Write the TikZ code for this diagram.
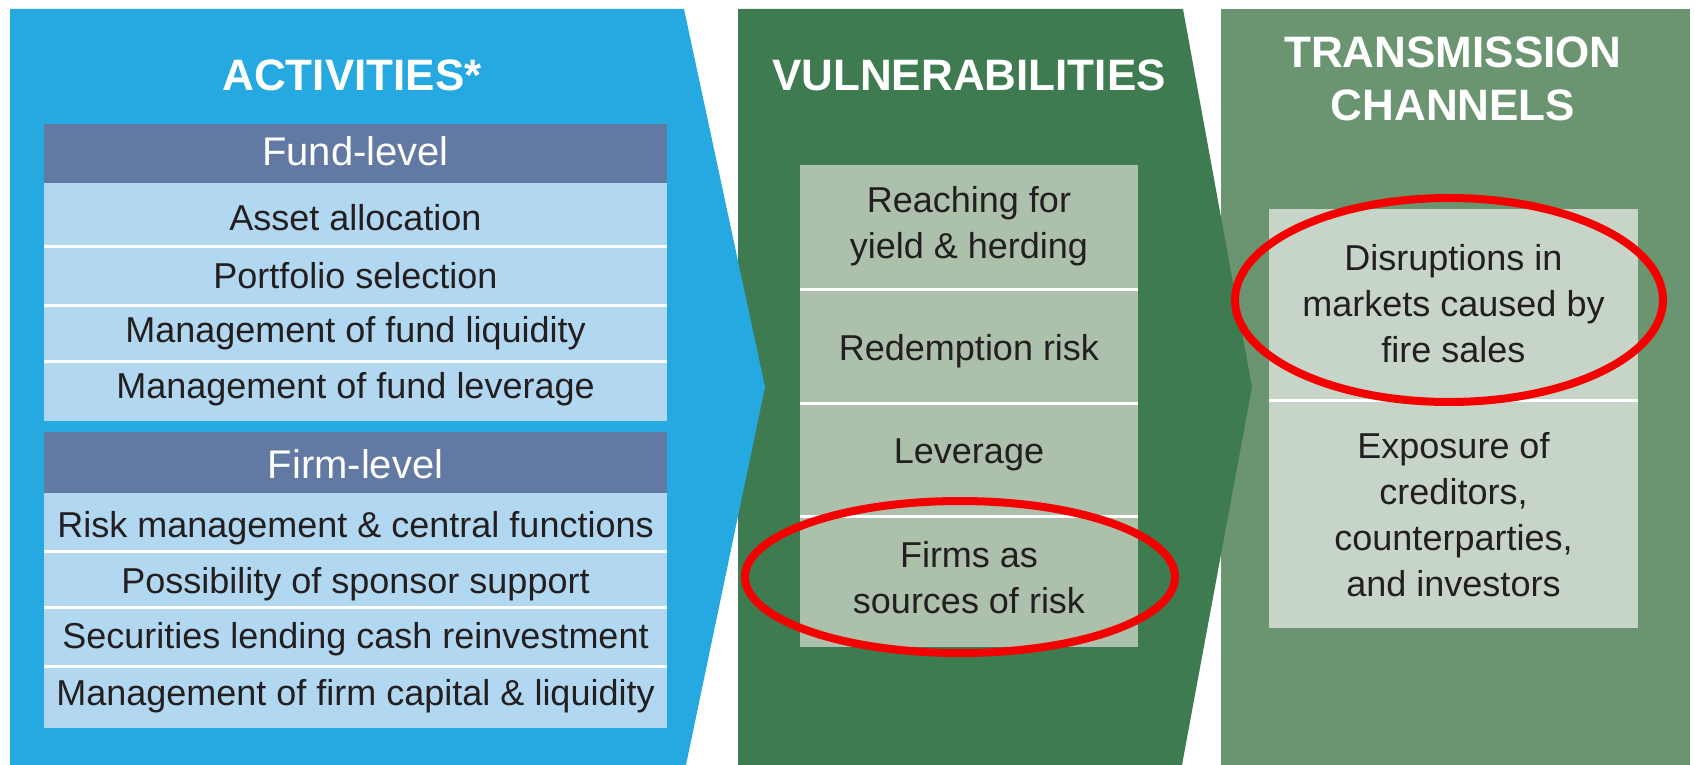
\documentclass[tikz,border=0pt]{standalone}
\usepackage{fontspec}
\setmainfont{Liberation Sans}
\definecolor{actblue}{RGB}{37,169,224}
\definecolor{hdrblue}{RGB}{97,121,163}
\definecolor{rowblue}{RGB}{178,215,240}
\definecolor{vulgreen}{RGB}{63,123,80}
\definecolor{vulbox}{RGB}{172,192,171}
\definecolor{trgreen}{RGB}{107,149,113}
\definecolor{trbox}{RGB}{198,213,199}
\definecolor{ringred}{RGB}{245,0,0}
\definecolor{txt}{RGB}{35,31,32}
\tikzset{
 box/.style={rectangle, inner sep=0pt, outer sep=0pt, align=center, text=txt, font=\fontsize{18pt}{23pt}\selectfont},
 actrow/.style={box, fill=rowblue, minimum width=311.5pt},
 hdr/.style={box, fill=hdrblue, minimum width=311.5pt},
 vulrow/.style={box, fill=vulbox, minimum width=169pt},
 trrow/.style={box, fill=trbox, minimum width=184.5pt},
 rowtext/.style={inner sep=0pt, anchor=base, text=txt, align=center, font=\fontsize{18pt}{23pt}\selectfont},
 hdrtext/.style={inner sep=0pt, anchor=base, text=white, font=\fontsize{20pt}{24pt}\selectfont},
 paneltitle/.style={inner sep=0pt, anchor=base, text=white, font=\bfseries\fontsize{22pt}{26.5pt}\selectfont},
 ring/.style={draw=ringred, line width=4pt},
}
\begin{document}
\begin{tikzpicture}[x=0.5pt,y=-0.5pt]
\useasboundingbox (0,0) rectangle (1694,765);
% panels
\fill[trgreen] (1221,9) rectangle (1690,765);
\fill[vulgreen] (738,9) -- (1183,9) -- (1252,387) -- (1182,765) -- (738,765) -- cycle;
\fill[actblue] (10,9) -- (684,9) -- (765,387) -- (686,765) -- (10,765) -- cycle;
% titles
\node[paneltitle] (acttitle) at (352,91) {ACTIVITIES*};
\node[paneltitle] (vultitle) at (969,91) {VULNERABILITIES};
\node[paneltitle] (trtitle1) at (1453,68) {TRANSMISSION};
\node[paneltitle] (trtitle2) at (1453,121) {CHANNELS};
% activities boxes
\fill[white] (44,183) rectangle (667,421);
\fill[white] (44,493) rectangle (667,728);
\node[hdr, minimum height=29.5pt] (fundhdr) at (355.5,153.5) {};
\node[actrow, minimum height=31pt] (a1) at (355.5,214) {};
\node[actrow, minimum height=28pt] (a2) at (355.5,276) {};
\node[actrow, minimum height=26.5pt] (a3) at (355.5,333.5) {};
\node[actrow, minimum height=29pt] (a4) at (355.5,392) {};
\node[hdr, minimum height=30.5pt] (firmhdr) at (355.5,462.5) {};
\node[actrow, minimum height=28.5pt] (f1) at (355.5,521.5) {};
\node[actrow, minimum height=26.5pt] (f2) at (355.5,579.5) {};
\node[actrow, minimum height=28pt] (f3) at (355.5,637) {};
\node[actrow, minimum height=30pt] (f4) at (355.5,698) {};
% activities texts
\node[hdrtext] (fundhdrtxt) at (355.5,166) {Fund-level};
\node[rowtext] (a1txt) at (355.5,230) {Asset allocation};
\node[rowtext] (a2txt) at (355.5,288) {Portfolio selection};
\node[rowtext] (a3txt) at (355.5,343) {Management of fund liquidity};
\node[rowtext] (a4txt) at (355.5,398) {Management of fund leverage};
\node[hdrtext] (firmhdrtxt) at (355.5,478) {Firm-level};
\node[rowtext] (f1txt) at (355.5,537) {Risk management \& central functions};
\node[rowtext] (f2txt) at (355.5,593) {Possibility of sponsor support};
\node[rowtext] (f3txt) at (355.5,648) {Securities lending cash reinvestment};
\node[rowtext] (f4txt) at (355.5,705) {Management of firm capital \& liquidity};
% vulnerabilities
\fill[white] (800,165) rectangle (1138,647);
\node[vulrow, minimum height=61.5pt] (v1) at (969,226.5) {Reaching for\\yield \& herding};
\node[vulrow, minimum height=55.5pt] (v2) at (969,346.5) {};
\node[vulrow, minimum height=55pt] (v3) at (969,460) {};
\node[vulrow, minimum height=64.5pt] (v4) at (969,582.5) {};
\node[rowtext] (v2txt) at (969,360) {Redemption risk};
\node[rowtext] (v3txt) at (969,463) {Leverage};
\node[rowtext, anchor=center] (v4txt) at (969,578) {Firms as\\sources of risk};
% transmission
\fill[white] (1269,209) rectangle (1638,628);
\node[trrow, minimum height=95pt] (t1) at (1453.5,304) {Disruptions in\\markets caused by\\fire sales};
\node[trrow, minimum height=113pt] (t2) at (1453.5,515) {Exposure of\\creditors,\\counterparties,\\and investors};
% red rings
\draw[ring] (960,577) ellipse [x radius=107.5pt, y radius=38pt];
\draw[ring] (1449,300) ellipse [x radius=107pt, y radius=51pt];
\end{tikzpicture}
\end{document}
